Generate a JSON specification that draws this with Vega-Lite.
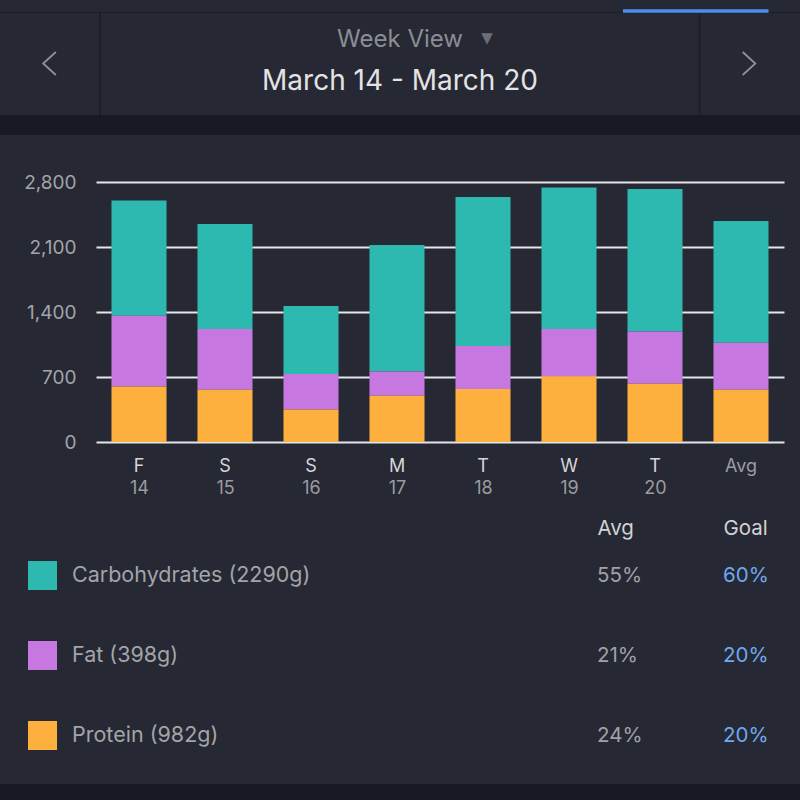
{
  "$schema": "https://vega.github.io/schema/vega-lite/v6.json",
  "background": "#171923",
  "padding": {"left": 0, "top": 0, "right": 0, "bottom": 16},
  "bounds": "flush",
  "spacing": 20,
  "config": {
    "font": "Inter",
    "view": {"fill": "#262833", "stroke": null},
    "axis": {"domain": false, "ticks": false, "grid": false, "title": null, "labelFont": "Inter"},
    "legend": {"labelFont": "Inter"},
    "text": {"font": "Inter"}
  },
  "datasets": {
    "kcal": [
      {"day": "Fri 14", "macro": "Carbohydrates (2290g)", "kcal": 1242},
      {"day": "Fri 14", "macro": "Fat (398g)", "kcal": 761},
      {"day": "Fri 14", "macro": "Protein (982g)", "kcal": 599},
      {"day": "Sat 15", "macro": "Carbohydrates (2290g)", "kcal": 1131},
      {"day": "Sat 15", "macro": "Fat (398g)", "kcal": 654},
      {"day": "Sat 15", "macro": "Protein (982g)", "kcal": 563},
      {"day": "Sun 16", "macro": "Carbohydrates (2290g)", "kcal": 733},
      {"day": "Sun 16", "macro": "Fat (398g)", "kcal": 381},
      {"day": "Sun 16", "macro": "Protein (982g)", "kcal": 351},
      {"day": "Mon 17", "macro": "Carbohydrates (2290g)", "kcal": 1362},
      {"day": "Mon 17", "macro": "Fat (398g)", "kcal": 261},
      {"day": "Mon 17", "macro": "Protein (982g)", "kcal": 499},
      {"day": "Tue 18", "macro": "Carbohydrates (2290g)", "kcal": 1605},
      {"day": "Tue 18", "macro": "Fat (398g)", "kcal": 463},
      {"day": "Tue 18", "macro": "Protein (982g)", "kcal": 571},
      {"day": "Wed 19", "macro": "Carbohydrates (2290g)", "kcal": 1525},
      {"day": "Wed 19", "macro": "Fat (398g)", "kcal": 510},
      {"day": "Wed 19", "macro": "Protein (982g)", "kcal": 707},
      {"day": "Thu 20", "macro": "Carbohydrates (2290g)", "kcal": 1534},
      {"day": "Thu 20", "macro": "Fat (398g)", "kcal": 563},
      {"day": "Thu 20", "macro": "Protein (982g)", "kcal": 628},
      {"day": "Avg", "macro": "Carbohydrates (2290g)", "kcal": 1311},
      {"day": "Avg", "macro": "Fat (398g)", "kcal": 506},
      {"day": "Avg", "macro": "Protein (982g)", "kcal": 563}
    ],
    "split": [
      {"macro": "Carbohydrates", "column": "Avg", "share": 0.55},
      {"macro": "Carbohydrates", "column": "Goal", "share": 0.6},
      {"macro": "Fat", "column": "Avg", "share": 0.21},
      {"macro": "Fat", "column": "Goal", "share": 0.2},
      {"macro": "Protein", "column": "Avg", "share": 0.24},
      {"macro": "Protein", "column": "Goal", "share": 0.2}
    ]
  },
  "vconcat": [
    {
      "width": 800,
      "height": 115,
      "view": {"fill": "#262833", "stroke": null},
      "layer": [
        {
          "data": {"values": [{}]},
          "mark": {"type": "rule", "color": "#1c1e27", "strokeWidth": 1},
          "encoding": {
            "x": {"datum": 0, "type": "quantitative", "scale": {"domain": [0, 1], "range": [0.5, 799.5]}, "axis": null},
            "x2": {"datum": 1},
            "y": {"datum": 1, "type": "quantitative", "scale": {"domain": [0, 1], "range": [115, 12.5]}, "axis": null}
          }
        },
        {
          "data": {"values": [{"side": "left"}, {"side": "right"}]},
          "mark": {"type": "rule", "color": "#1b1d26", "strokeWidth": 1.6},
          "encoding": {
            "x": {"field": "side", "type": "nominal", "scale": {"type": "point", "domain": ["left", "right"], "range": [100, 699.5], "padding": 0}, "axis": null},
            "y": {"datum": 0, "type": "quantitative", "scale": {"domain": [0, 1], "range": [115, 12.5]}, "axis": null},
            "y2": {"datum": 1}
          }
        },
        {
          "data": {"values": [{}]},
          "mark": {"type": "rect", "color": "#4a8ff0"},
          "encoding": {
            "x": {"datum": 0, "type": "quantitative", "scale": {"domain": [0, 1], "range": [623, 768.5]}, "axis": null},
            "x2": {"datum": 1},
            "y": {"datum": 0, "type": "quantitative", "scale": {"domain": [0, 1], "range": [12.8, 9.3]}, "axis": null},
            "y2": {"datum": 1}
          }
        },
        {
          "data": {"values": [{"part": "mode", "label": "Week View"}, {"part": "dates", "label": "March 14 - March 20"}]},
          "mark": {"type": "text", "baseline": "alphabetic", "align": "center"},
          "encoding": {
            "text": {"field": "label"},
            "y": {"field": "part", "type": "nominal", "scale": {"type": "point", "domain": ["mode", "dates"], "range": [46.5, 90], "padding": 0}, "axis": null},
            "size": {"field": "part", "type": "nominal", "scale": {"type": "point", "domain": ["mode", "dates"], "range": [24, 28], "padding": 0}, "legend": null},
            "color": {"field": "part", "type": "nominal", "scale": {"domain": ["mode", "dates"], "range": ["#8b8d95", "#e3e3e6"]}, "legend": null}
          }
        },
        {
          "data": {"values": [{"label": "▼"}]},
          "mark": {"type": "text", "font": "DejaVu Sans", "fontSize": 15, "color": "#6b6d77", "dx": 87, "dy": -20},
          "encoding": {"text": {"field": "label"}}
        },
        {
          "data": {"values": [{"step": "previous"}, {"step": "next"}]},
          "mark": {"type": "point", "filled": false, "strokeWidth": 1.8, "color": "#8f9199", "size": 529, "opacity": 1},
          "encoding": {
            "x": {"field": "step", "type": "nominal", "scale": {"type": "point", "domain": ["previous", "next"], "range": [49.5, 749], "padding": 0}, "axis": null},
            "y": {"field": "step", "type": "nominal", "scale": {"type": "point", "domain": ["previous", "next"], "range": [63.5, 63.5], "padding": 0}, "axis": null},
            "shape": {"field": "step", "type": "nominal", "scale": {"domain": ["previous", "next"], "range": ["M0.55,-1L-0.55,0L0.55,1", "M-0.55,-1L0.55,0L-0.55,1"]}, "legend": null}
          }
        }
      ],
      "resolve": {"scale": {"x": "independent", "y": "independent", "color": "independent", "size": "independent", "shape": "independent"}}
    },
    {
      "width": 800,
      "height": 649,
      "view": {"fill": "#262833", "stroke": null},
      "layer": [
        {
          "data": {"name": "kcal"},
          "mark": {"type": "bar"},
          "encoding": {
            "x": {
              "field": "day", "type": "nominal",
              "scale": {"domain": ["Fri 14", "Sat 15", "Sun 16", "Mon 17", "Tue 18", "Wed 19", "Thu 20", "Avg"], "range": [96, 784], "paddingInner": 0.36, "paddingOuter": 0.18},
              "axis": {
                "orient": "bottom", "offset": -342, "labelPadding": 15, "labelAngle": 0, "labelFontSize": 18,
                "labelExpr": "datum.value == 'Avg' ? 'Avg' : substring(datum.value, 0, 1)",
                "labelColor": {"expr": "datum.value == 'Avg' ? '#9b9ca2' : '#d6d6da'"}
              }
            },
            "y": {
              "field": "kcal", "type": "quantitative", "stack": "zero",
              "scale": {"domain": [0, 2800], "range": [307, 47], "nice": false},
              "axis": {
                "orient": "left", "offset": -76, "labelPadding": 0, "values": [0, 700, 1400, 2100, 2800], "format": ",.0f",
                "labelFlush": false, "labelFontSize": 19, "labelColor": "#a3a4a9",
                "grid": true, "gridColor": "#e6e6e9", "gridWidth": 2, "gridOpacity": 1
              }
            },
            "color": {
              "field": "macro", "type": "nominal",
              "scale": {"domain": ["Carbohydrates (2290g)", "Fat (398g)", "Protein (982g)"], "range": ["#2db9b0", "#c677e0", "#fdb03e"]},
              "legend": {
                "orient": "none", "legendX": 28, "legendY": 426, "direction": "vertical", "title": null,
                "symbolType": "square", "symbolSize": 841, "symbolStrokeWidth": 0, "symbolOpacity": 1,
                "rowPadding": 51, "labelFontSize": 21.5, "labelColor": "#a3a4a9", "labelOffset": 15, "labelLimit": 500
              }
            },
            "order": {"field": "macro", "sort": "descending"}
          }
        },
        {
          "data": {"name": "kcal"},
          "mark": {"type": "text", "text": ""},
          "encoding": {
            "x": {
              "field": "day", "type": "nominal",
              "scale": {"domain": ["Fri 14", "Sat 15", "Sun 16", "Mon 17", "Tue 18", "Wed 19", "Thu 20", "Avg"], "range": [96, 784], "paddingInner": 0.36, "paddingOuter": 0.18},
              "axis": {
                "orient": "bottom", "offset": -342, "labelPadding": 37, "labelAngle": 0, "labelFontSize": 18,
                "labelExpr": "datum.value == 'Avg' ? '' : slice(datum.value, 4)",
                "labelColor": "#9b9ca2"
              }
            }
          }
        },
        {
          "data": {"name": "split"},
          "mark": {"type": "text", "align": "left", "baseline": "middle", "fontSize": 20.5},
          "encoding": {
            "x": {
              "field": "column", "type": "nominal",
              "scale": {"type": "point", "domain": ["Avg", "Goal"], "range": [597, 723], "padding": 0},
              "axis": {"orient": "bottom", "offset": -266, "labelPadding": 0, "labelAlign": "left", "labelAngle": 0, "labelFontSize": 20.5, "labelColor": "#d2d2d6"}
            },
            "y": {"field": "macro", "type": "nominal", "scale": {"type": "point", "domain": ["Carbohydrates", "Fat", "Protein"], "range": [441, 601], "padding": 0}, "axis": null},
            "text": {"field": "share", "type": "quantitative", "format": ".0%"},
            "color": {"field": "column", "type": "nominal", "scale": {"domain": ["Avg", "Goal"], "range": ["#a0a1a7", "#6ea8f1"]}, "legend": null}
          }
        }
      ],
      "resolve": {
        "scale": {"x": "independent", "y": "independent", "color": "independent"},
        "axis": {"x": "independent", "y": "independent"}
      }
    }
  ]
}
